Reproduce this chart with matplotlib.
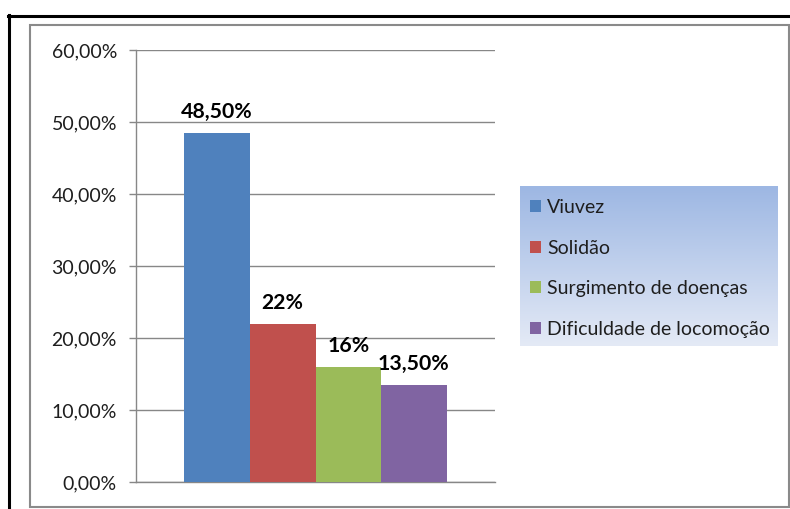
import numpy as np
import matplotlib
matplotlib.use("Agg")
import matplotlib.pyplot as plt
from matplotlib.lines import Line2D
from matplotlib.patches import Rectangle

categories = ["Viuvez", "Solidão", "Surgimento de doenças", "Dificuldade de locomoção"]
values = [48.5, 22.0, 16.0, 13.5]
value_labels = ["48,50%", "22%", "16%", "13,50%"]
colors = ["#4f81bd", "#c0504d", "#9bbb59", "#8064a2"]
yticks = [0, 10, 20, 30, 40, 50, 60]
ytick_labels = ["0,00%", "10,00%", "20,00%", "30,00%", "40,00%", "50,00%", "60,00%"]

plt.rcParams['font.family'] = ['Lato', 'DejaVu Sans']

W, H = 790, 509
fig = plt.figure(figsize=(W / 100, H / 100), dpi=100)

def fx(px):
    return px / W

def fy(py):
    return 1 - py / H

# outer black frame (top and left visible)
fig.add_artist(Line2D([fx(8), fx(790)], [fy(15.5), fy(15.5)], color="black", lw=2.2,
                      transform=fig.transFigure))
fig.add_artist(Line2D([fx(8.5), fx(8.5)], [fy(15), fy(509)], color="black", lw=2.2,
                      transform=fig.transFigure))
# gray chart area frame
fig.add_artist(Rectangle((fx(30), fy(507)), fx(789) - fx(30), fy(25) - fy(507),
                         fill=False, edgecolor="#8a8a8a", lw=1.5, transform=fig.transFigure))

ax = fig.add_axes([fx(136), fy(482), fx(495) - fx(136), fy(50) - fy(482)])
x = np.arange(len(categories))
bars = ax.bar(x, values, width=1.0, color=colors, label=categories, zorder=3)
ax.set_xlim(-1.24, 4.24)
ax.set_ylim(0, 60)
ax.set_yticks(yticks)
ax.set_yticklabels(ytick_labels, fontsize=14, color="#1e1e1e")
ax.set_xticks([])
ax.grid(axis="y", color="#878787", lw=1, zorder=0)
ax.set_axisbelow(True)
for s in ["top", "right"]:
    ax.spines[s].set_visible(False)
ax.spines["left"].set_color("#878787")
ax.spines["bottom"].set_color("#878787")
ax.spines["left"].set_linewidth(1)
ax.spines["bottom"].set_linewidth(1)
ax.tick_params(axis="y", length=5.2, width=1, color="#878787", pad=8.5)

for xi, v, lab in zip(x, values, value_labels):
    ax.annotate(lab, (xi, v), xytext=(0, 10.5), textcoords="offset points",
                ha="center", va="baseline", fontsize=15.3, fontweight="bold",
                color="black", zorder=5)

# legend with gradient background
lax = fig.add_axes([fx(520), fy(346), fx(778) - fx(520), fy(186) - fy(346)])
top = np.array([0x9d, 0xb7, 0xe3]) / 255
bot = np.array([0xe4, 0xea, 0xf6]) / 255
t = np.linspace(0, 1, 200)[:, None]
grad = top[None, :] * (1 - t) + bot[None, :] * t
lax.imshow(grad[:, None, :], aspect="auto", extent=[0, 1, 0, 1], origin="upper")
lax.set_xlim(0, 1)
lax.set_ylim(0, 1)
lax.axis("off")
leg = lax.legend(bars, categories, loc="center left", bbox_to_anchor=(0, 0.485),
                 frameon=False, fontsize=14, handlelength=0.58, handleheight=0.58,
                 handletextpad=0.32, labelspacing=1.22, borderaxespad=0, borderpad=0.5)
for txt in leg.get_texts():
    txt.set_color("#1e1e1e")

fig.savefig("out.png", dpi=100)
